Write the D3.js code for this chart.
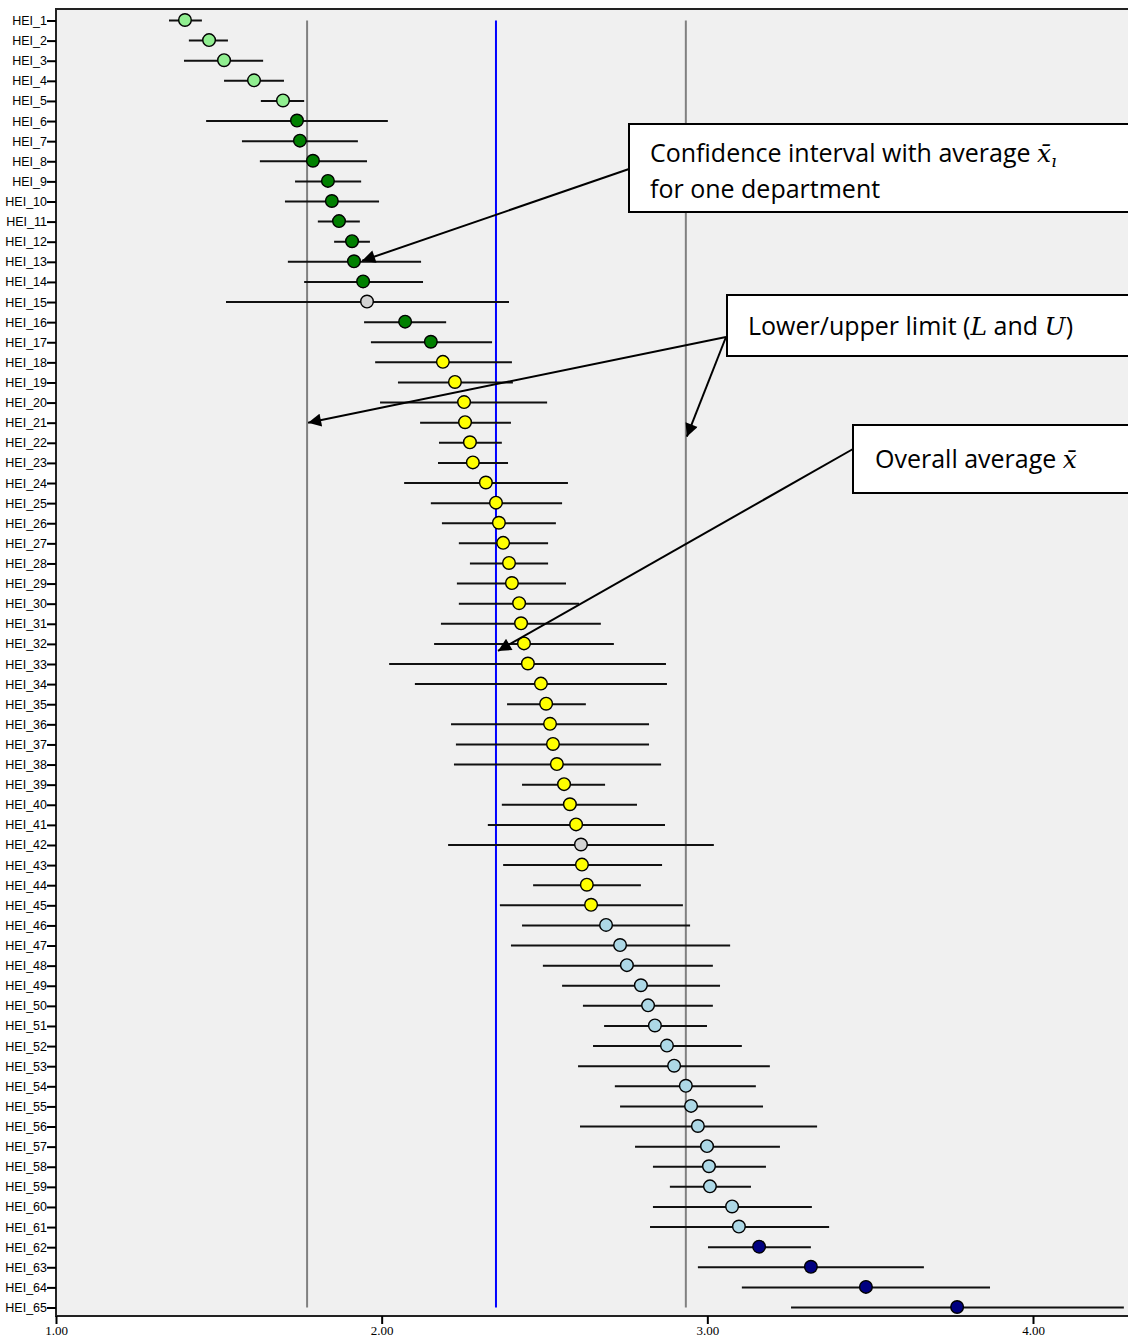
<!DOCTYPE html>
<html>
<head>
<meta charset="utf-8">
<script src="https://cdn.jsdelivr.net/npm/d3@7"></script>
<style>
  body { margin: 0; background: #fff; }
  svg { display: block; }
</style>
</head>
<body>
<div id="chart"></div>
<script>
// departments, top to bottom
const names = d3.range(1, 66).map(i => "HEI_" + i);

// average per department
const means = [
  1.396, 1.470, 1.516, 1.608, 1.697, 1.740, 1.749, 1.789, 1.835, 1.847,
  1.869, 1.909, 1.915, 1.943, 1.955, 2.072, 2.151, 2.188, 2.225, 2.253,
  2.256, 2.271, 2.280, 2.320, 2.351, 2.360, 2.373, 2.391, 2.400, 2.422,
  2.428, 2.437, 2.449, 2.489, 2.505, 2.517, 2.526, 2.538, 2.560, 2.578,
  2.597, 2.612, 2.615, 2.630, 2.643, 2.689, 2.732, 2.753, 2.796, 2.818,
  2.839, 2.876, 2.898, 2.934, 2.950, 2.971, 2.999, 3.005, 3.008, 3.076,
  3.097, 3.159, 3.318, 3.487, 3.767
];

// lower end of the confidence interval
const lows = [
  1.347, 1.408, 1.393, 1.516, 1.629, 1.461, 1.571, 1.626, 1.734, 1.703,
  1.804, 1.854, 1.712, 1.762, 1.522, 1.946, 1.967, 1.980, 2.050, 1.995,
  2.118, 2.176, 2.173, 2.069, 2.151, 2.185, 2.237, 2.271, 2.231, 2.237,
  2.182, 2.161, 2.023, 2.102, 2.385, 2.213, 2.228, 2.222, 2.431, 2.369,
  2.326, 2.204, 2.373, 2.465, 2.363, 2.431, 2.397, 2.495, 2.554, 2.618,
  2.683, 2.649, 2.603, 2.716, 2.732, 2.609, 2.778, 2.833, 2.885, 2.833,
  2.824, 3.002, 2.971, 3.106, 3.257
];

// upper end of the confidence interval
const highs = [
  1.448, 1.528, 1.636, 1.700, 1.762, 2.019, 1.927, 1.955, 1.937, 1.992,
  1.933, 1.964, 2.121, 2.127, 2.391, 2.198, 2.339, 2.400, 2.403, 2.508,
  2.397, 2.369, 2.388, 2.572, 2.554, 2.535, 2.511, 2.511, 2.566, 2.606,
  2.673, 2.713, 2.873, 2.876, 2.627, 2.821, 2.821, 2.858, 2.686, 2.784,
  2.870, 3.020, 2.861, 2.796, 2.925, 2.947, 3.070, 3.017, 3.039, 3.017,
  2.999, 3.106, 3.192, 3.149, 3.171, 3.337, 3.223, 3.180, 3.134, 3.321,
  3.374, 3.318, 3.665, 3.868, 4.279
];

// colour group per department
const groups = [
  "lg", "lg", "lg", "lg", "lg", "dg", "dg", "dg", "dg", "dg",
  "dg", "dg", "dg", "dg", "na", "dg", "dg", "ye", "ye", "ye",
  "ye", "ye", "ye", "ye", "ye", "ye", "ye", "ye", "ye", "ye",
  "ye", "ye", "ye", "ye", "ye", "ye", "ye", "ye", "ye", "ye",
  "ye", "na", "ye", "ye", "ye", "lb", "lb", "lb", "lb", "lb",
  "lb", "lb", "lb", "lb", "lb", "lb", "lb", "lb", "lb", "lb",
  "lb", "nv", "nv", "nv", "nv"
];
const groupColor = { lg: "#90ee90", dg: "#008000", na: "#d3d3d3", ye: "#ffff00", lb: "#add8e6", nv: "#000080" };

// reference lines
const lowerLimit = 1.771;
const overallMean = 2.351;
const upperLimit = 2.934;

const xTicks = [1, 2, 3, 4];

const W = 1128, H = 1337;
const plot = { left: 56, top: 9, right: 1135, bottom: 1316 };

const svg = d3.select("#chart").append("svg")
    .attr("width", W)
    .attr("height", H);

const x = d3.scaleLinear()
    .domain([1, 4])
    .range([plot.left, 1033]);

const y = d3.scalePoint()
    .domain(names)
    .range([20.5, 1307.5]);

const rows = names.map((n, i) => ({ name: n, mean: means[i], lo: lows[i], hi: highs[i], g: groups[i] }));

// plot background + frame
svg.append("rect")
    .attr("x", plot.left)
    .attr("y", plot.top)
    .attr("width", plot.right - plot.left)
    .attr("height", plot.bottom - plot.top)
    .attr("fill", "#f0f0f0")
    .attr("stroke", "#222")
    .attr("stroke-width", 2);

// y axis
svg.append("g")
    .attr("transform", `translate(${plot.left},0)`)
    .call(d3.axisLeft(y).tickSize(9).tickPadding(0))
    .call(g => g.select(".domain").remove())
    .call(g => g.selectAll(".tick line").attr("stroke", "#000").attr("stroke-width", 2))
    .selectAll(".tick text")
    .style("font-family", "'Liberation Sans', Arial, sans-serif")
    .style("font-size", "12.5px")
    .attr("fill", "#000");

// x axis
svg.append("g")
    .attr("transform", `translate(0,${plot.bottom})`)
    .call(d3.axisBottom(x).tickValues(xTicks).tickFormat(d3.format(".2f")).tickSize(8).tickPadding(2))
    .call(g => g.select(".domain").remove())
    .call(g => g.selectAll(".tick line").attr("stroke", "#000").attr("stroke-width", 2))
    .selectAll(".tick text")
    .style("font-family", "'Liberation Serif', 'Times New Roman', serif")
    .style("font-size", "13px")
    .attr("fill", "#000");

// reference lines
const refLines = [
    { v: lowerLimit, c: "#808080" },
    { v: upperLimit, c: "#808080" },
    { v: overallMean, c: "#0000ff" }
];
svg.selectAll(".ref")
    .data(refLines)
    .join("line")
    .attr("x1", d => x(d.v))
    .attr("x2", d => x(d.v))
    .attr("y1", y(names[0]))
    .attr("y2", y(names[names.length - 1]))
    .attr("stroke", d => d.c)
    .attr("stroke-width", 2);

// interval bars
svg.selectAll(".ci")
    .data(rows)
    .join("line")
    .attr("x1", d => x(d.lo))
    .attr("x2", d => x(d.hi))
    .attr("y1", d => y(d.name))
    .attr("y2", d => y(d.name))
    .attr("stroke", "#111")
    .attr("stroke-width", 2);

// averages
svg.selectAll(".dot")
    .data(rows)
    .join("circle")
    .attr("cx", d => x(d.mean))
    .attr("cy", d => y(d.name) - 0.5)
    .attr("r", 6.3)
    .attr("fill", d => groupColor[d.g])
    .attr("stroke", "#000")
    .attr("stroke-width", 1.4);

// annotations
svg.append("defs").append("marker")
    .attr("id", "head")
    .attr("viewBox", "0 0 10 10")
    .attr("refX", 10)
    .attr("refY", 5)
    .attr("markerWidth", 16)
    .attr("markerHeight", 13)
    .attr("markerUnits", "userSpaceOnUse")
    .attr("orient", "auto")
    .append("path")
    .attr("d", "M0,0L10,5L0,10Z")
    .attr("fill", "#000");

const arrows = [
    { x1: 629, y1: 169, x2: x(1.94), y2: y("HEI_13") - 1 },
    { x1: 726, y1: 337, x2: x(lowerLimit) + 1, y2: y("HEI_21") },
    { x1: 726, y1: 337, x2: x(upperLimit) + 1, y2: y("HEI_21") + 14 },
    { x1: 853, y1: 449, x2: x(overallMean) + 2, y2: y("HEI_32") + 7 }
];
svg.selectAll(".arrow")
    .data(arrows)
    .join("line")
    .attr("x1", d => d.x1)
    .attr("y1", d => d.y1)
    .attr("x2", d => d.x2)
    .attr("y2", d => d.y2)
    .attr("stroke", "#000")
    .attr("stroke-width", 2)
    .attr("marker-end", "url(#head)");

const boxes = [
    { x: 629, y: 124, h: 88 },
    { x: 727, y: 295, h: 61 },
    { x: 853, y: 425, h: 68 }
];
svg.selectAll(".box")
    .data(boxes)
    .join("rect")
    .attr("x", d => d.x)
    .attr("y", d => d.y)
    .attr("width", d => W - d.x + 10)
    .attr("height", d => d.h)
    .attr("fill", "#fff")
    .attr("stroke", "#000")
    .attr("stroke-width", 2);

const noteFont = "'Open Sans', 'Noto Sans', sans-serif";
const mathFont = "'DejaVu Serif', 'Liberation Serif', serif";

function note(xp, yp) {
    return svg.append("text")
        .attr("x", xp)
        .attr("y", yp)
        .style("font-family", noteFont)
        .style("font-size", "25px")
        .attr("fill", "#000");
}

const t1 = note(650, 162);
t1.append("tspan").text("Confidence interval with average ");
t1.append("tspan").style("font-family", mathFont).style("font-style", "italic").text("x\u0304");
t1.append("tspan").style("font-family", mathFont).style("font-style", "italic")
    .style("font-size", "17px").attr("dy", 5).text("\u0131");
note(650, 198).text("for one department");

const t2 = note(748, 335);
t2.append("tspan").text("Lower/upper limit (");
t2.append("tspan").style("font-family", mathFont).style("font-style", "italic").text("L");
t2.append("tspan").text(" and ");
t2.append("tspan").style("font-family", mathFont).style("font-style", "italic").text("U");
t2.append("tspan").text(")");

const t3 = note(875, 468);
t3.append("tspan").text("Overall average ");
t3.append("tspan").style("font-family", mathFont).style("font-style", "italic").text("x\u0304");
</script>
</body>
</html>
